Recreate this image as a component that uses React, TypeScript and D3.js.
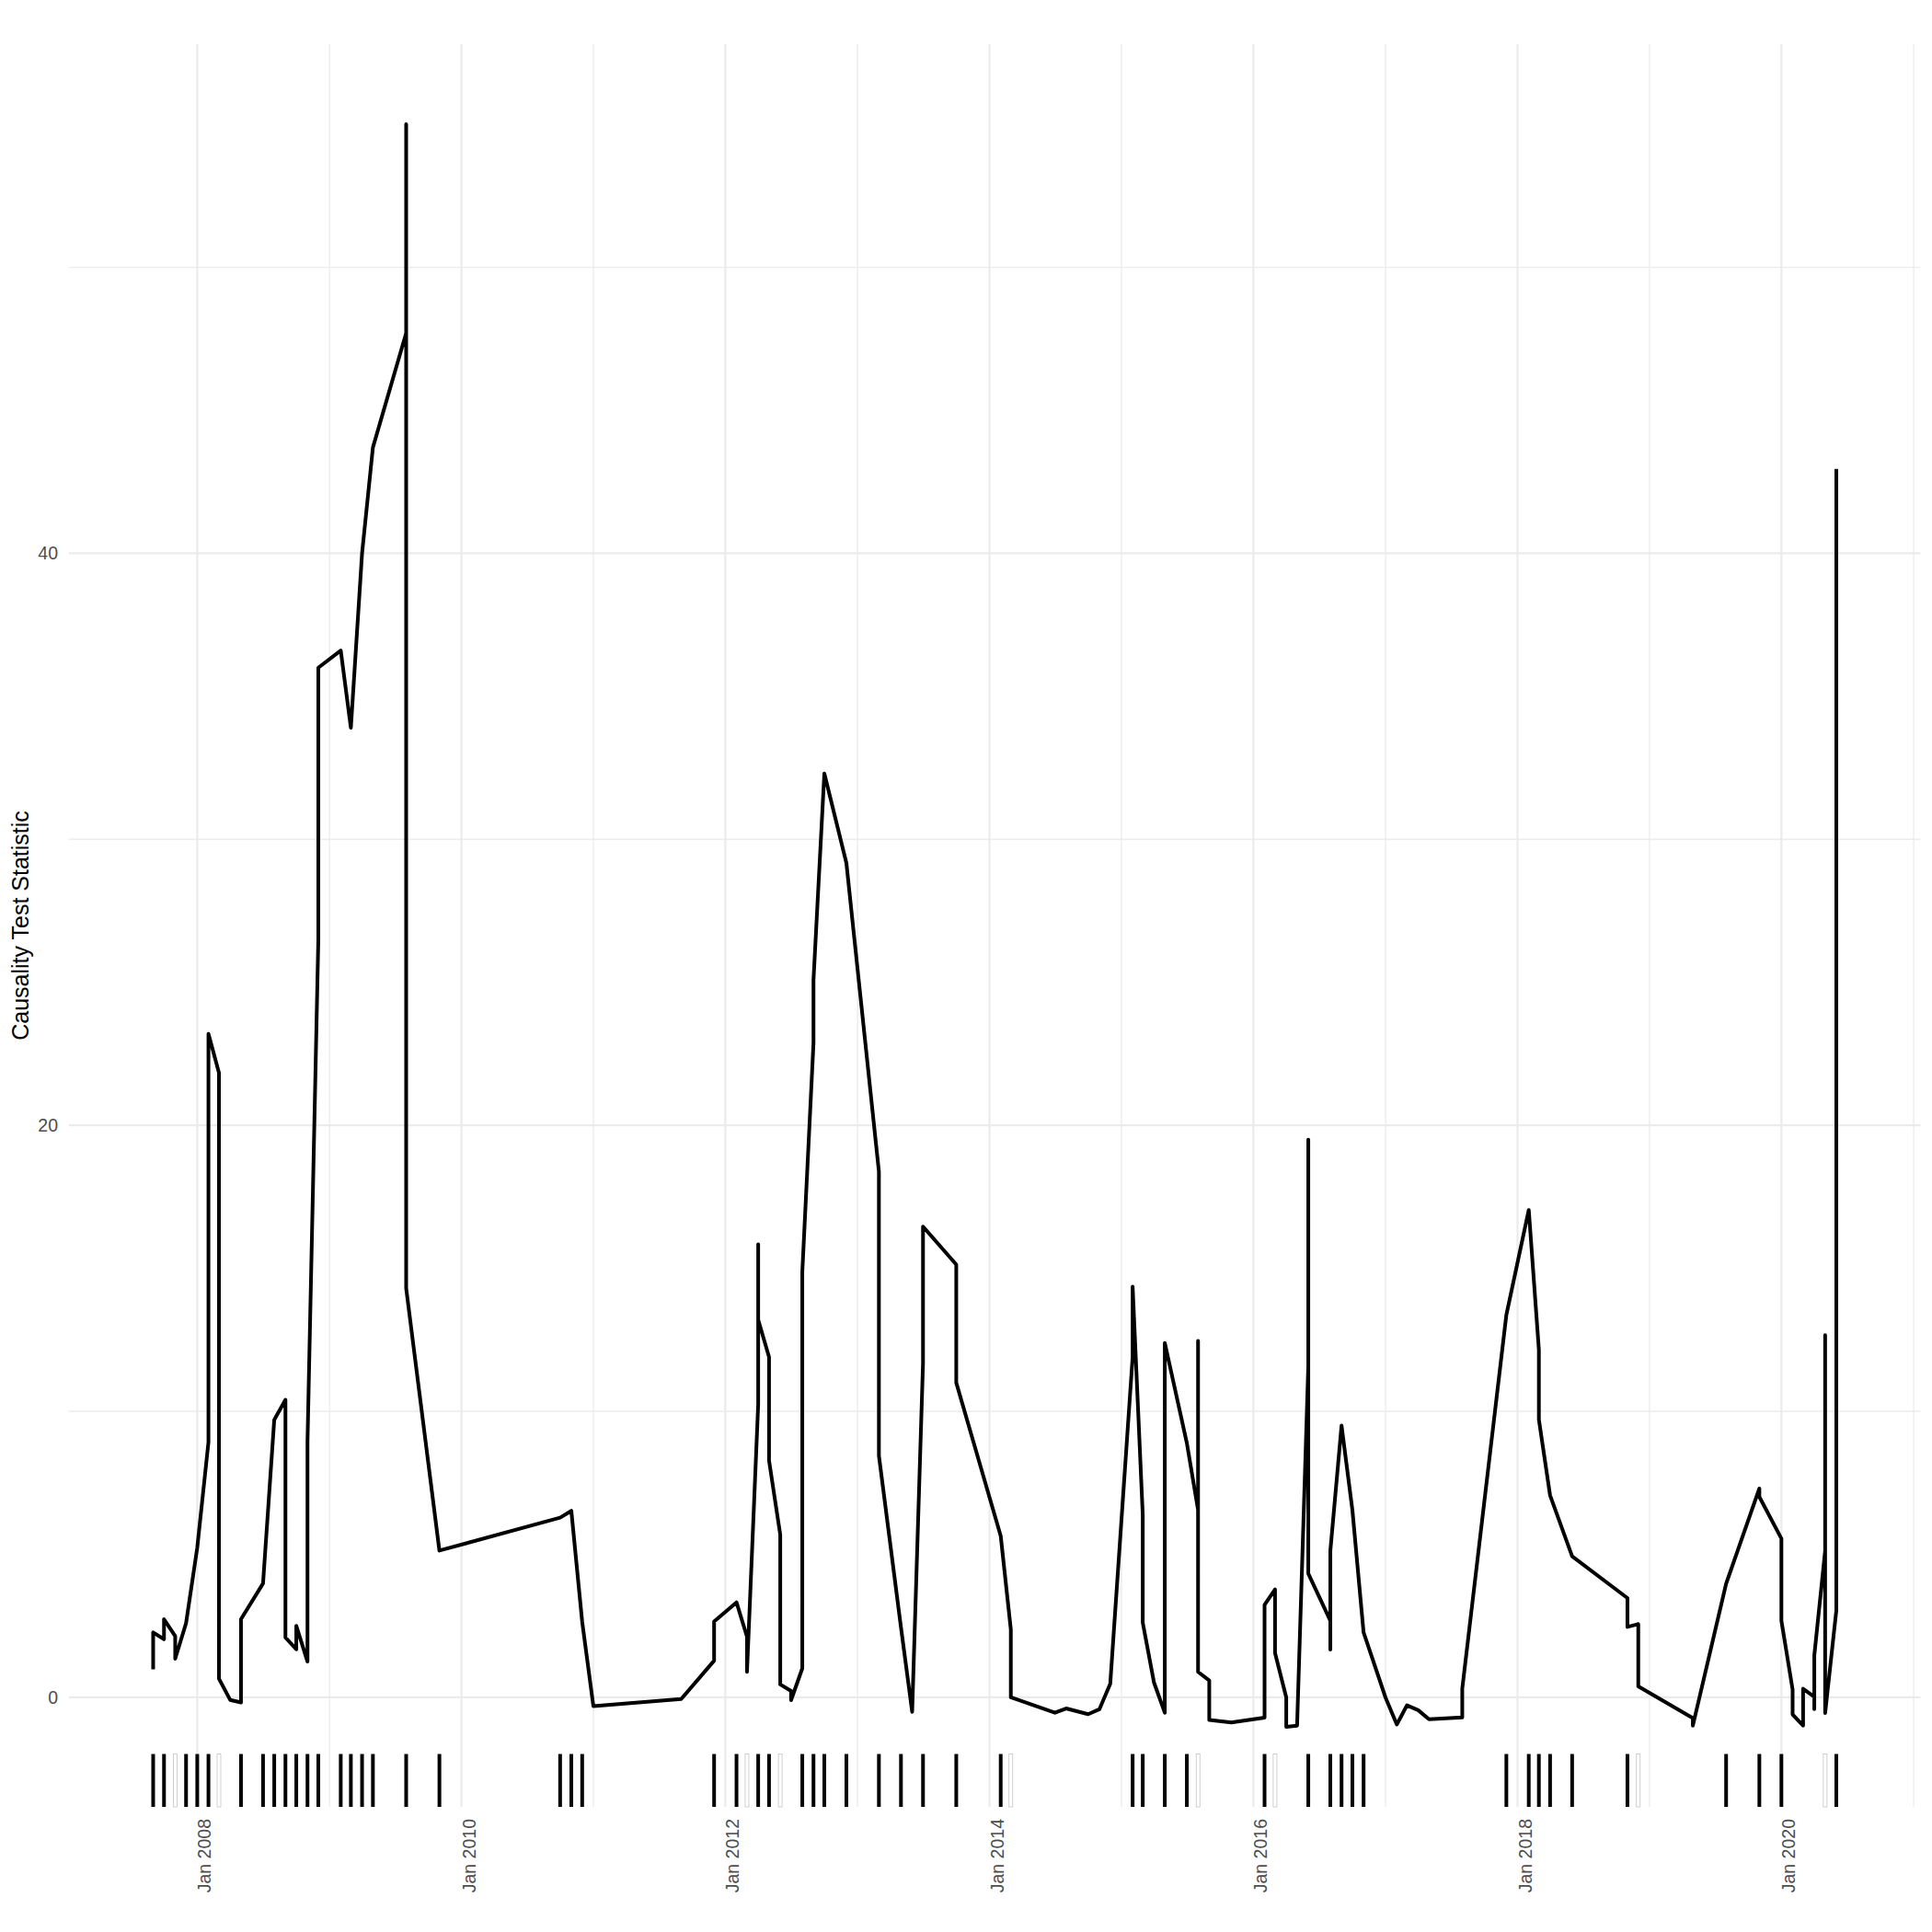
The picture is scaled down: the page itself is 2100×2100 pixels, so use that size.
import React from "react";
import * as d3 from "d3";

// months with observations, and the statistic values recorded in each month (in draw order)
const obsMonths = [
  "2007-09", "2007-10", "2007-11", "2007-12", "2008-01", "2008-02", "2008-03", "2008-04",
  "2008-05", "2008-07", "2008-08", "2008-09", "2008-10", "2008-11", "2008-12", "2009-02",
  "2009-03", "2009-04", "2009-05", "2009-08", "2009-11", "2010-10", "2010-11", "2010-12",
  "2011-01", "2011-09", "2011-12", "2012-02", "2012-03", "2012-04", "2012-05", "2012-06",
  "2012-07", "2012-08", "2012-09", "2012-10", "2012-12", "2013-03", "2013-05", "2013-06",
  "2013-07", "2013-10", "2014-02", "2014-03", "2014-07", "2014-08", "2014-10", "2014-11",
  "2014-12", "2015-02", "2015-03", "2015-04", "2015-05", "2015-07", "2015-08", "2015-09",
  "2015-11", "2016-02", "2016-03", "2016-04", "2016-05", "2016-06", "2016-08", "2016-09",
  "2016-10", "2016-11", "2017-01", "2017-02", "2017-03", "2017-04", "2017-05", "2017-08",
  "2017-12", "2018-02", "2018-03", "2018-04", "2018-06", "2018-11", "2018-12", "2019-05",
  "2019-08", "2019-11", "2020-01", "2020-02", "2020-03", "2020-04", "2020-05", "2020-06",
];

const obsValues = [
  [0.98, 2.27], [2.03, 2.73], [2.14, 1.35], [2.59], [5.23], [8.92, 23.2], [21.84, 0.65], [-0.09],
  [-0.18, 2.73], [3.98], [9.7], [10.4, 2.09], [1.68, 2.5], [1.25, 8.92], [26.5, 36.0], [36.6],
  [33.9], [40.0], [43.7], [47.7, 55.0, 14.3], [5.13], [6.28], [6.52], [2.64],
  [-0.31], [-0.06], [1.28, 2.65], [3.32], [2.12, 0.89], [10.25, 15.84, 13.2], [11.9, 8.28], [5.69, 0.45],
  [0.22, -0.1], [1.01, 14.86], [22.88, 25.08], [32.3], [29.17], [18.38, 8.45], [2.45], [-0.51],
  [11.68, 16.46], [15.13, 11.0], [5.64], [2.37, 0.0], [-0.54], [-0.39], [-0.59], [-0.42],
  [0.47], [11.9, 14.36], [6.38, 2.61], [0.52], [-0.54, 12.39], [8.89], [6.55, 12.46, 0.89], [0.59, -0.79],
  [-0.88], [-0.71, 3.23], [3.77, 1.55], [0.0, -1.03], [-0.99], [11.58, 19.5, 4.33], [2.68, 1.67, 5.12], [9.5],
  [6.55], [2.27], [-0.02], [-0.95], [-0.28], [-0.45], [-0.77], [-0.7, 0.3],
  [13.37], [17.04], [12.15, 9.71], [7.06], [4.93], [3.47, 2.46], [2.56, 0.38], [-0.73, -0.99],
  [3.97], [7.3, 7.01], [5.55, 2.68], [0.27, -0.6], [-0.99, 0.3], [0.02, -0.41, 1.46], [5.12, 12.66, -0.55], [3.04, 42.95],
];

// rug marks along the bottom
const rugDark = [
  "2007-09", "2007-10", "2007-12", "2008-01", "2008-02", "2008-05", "2008-07", "2008-08",
  "2008-09", "2008-10", "2008-11", "2008-12", "2009-02", "2009-03", "2009-04", "2009-05",
  "2009-08", "2009-11", "2010-10", "2010-11", "2010-12", "2011-12", "2012-02", "2012-04",
  "2012-05", "2012-08", "2012-09", "2012-10", "2012-12", "2013-03", "2013-05", "2013-07",
  "2013-10", "2014-02", "2015-02", "2015-03", "2015-05", "2015-07", "2016-02", "2016-06",
  "2016-08", "2016-09", "2016-10", "2016-11", "2017-12", "2018-02", "2018-03", "2018-04",
  "2018-06", "2018-11", "2019-08", "2019-11", "2020-01", "2020-06",
];
const rugLight = [
  "2007-11", "2008-03", "2012-03", "2012-06", "2014-03", "2015-08", "2016-03", "2018-12", "2020-05",
];

const yMajor = [0, 20, 40];
const yMinor = [10, 30, 50];

const W = 2100;
const H = 2100;
const margin = { top: 48, right: 12.5, bottom: 136, left: 75 };

const parseMonth = d3.timeParse("%Y-%m");
const fmt = d3.timeFormat("%b %Y");
const font = "'Liberation Sans', Arial, Helvetica, sans-serif";

export default function App() {
  const points = obsMonths.flatMap((m, i) =>
    obsValues[i].map((v) => ({ date: parseMonth(m) as Date, value: v }))
  );

  const [d0, d1] = d3.extent(points, (d) => d.date) as [Date, Date];
  const span = +d1 - +d0;
  const x = d3
    .scaleTime()
    .domain([new Date(+d0 - span * 0.05), new Date(+d1 + span * 0.05)])
    .range([margin.left, W - margin.right]);

  const [v0, v1] = d3.extent(points, (d) => d.value) as [number, number];
  const vs = v1 - v0;
  const y = d3
    .scaleLinear()
    .domain([v0 - vs * 0.05, v1 + vs * 0.05])
    .range([H - margin.bottom, margin.top]);

  const [xa, xb] = x.domain();
  const xMajor = d3.timeYear.range(xa, xb).filter((d) => d.getFullYear() % 2 === 0);
  const xMinor = d3.timeYear.range(xa, xb).filter((d) => d.getFullYear() % 2 === 1);

  const line = d3
    .line<{ date: Date; value: number }>()
    .x((d) => x(d.date))
    .y((d) => y(d.value));

  const pl = margin.left;
  const pr = W - margin.right;
  const pt = margin.top;
  const pb = H - margin.bottom;
  const rugLen = (pb - pt) * 0.03;
  const grid = "#EBEBEB";

  return (
    <svg
      width={W}
      height={H}
      style={{ position: "absolute", left: 0, top: 0, background: "#fff" }}
      fontFamily={font}
    >
      <rect x={0} y={0} width={W} height={H} fill="#fff" />
      {yMinor.map((v) => (
        <line key={"ym" + v} x1={pl} x2={pr} y1={y(v)} y2={y(v)} stroke={grid} strokeWidth={1.3} />
      ))}
      {xMinor.map((d) => (
        <line key={"xm" + +d} x1={x(d)} x2={x(d)} y1={pt} y2={pb} stroke={grid} strokeWidth={1.3} />
      ))}
      {yMajor.map((v) => (
        <line key={"yM" + v} x1={pl} x2={pr} y1={y(v)} y2={y(v)} stroke={grid} strokeWidth={2.2} />
      ))}
      {xMajor.map((d) => (
        <line key={"xM" + +d} x1={x(d)} x2={x(d)} y1={pt} y2={pb} stroke={grid} strokeWidth={2.2} />
      ))}

      <path d={line(points) || ""} fill="none" stroke="#000" strokeWidth={4} strokeLinejoin="round" />

      {rugDark.map((m) => {
        const px = x(parseMonth(m) as Date);
        return <line key={"r" + m} x1={px} x2={px} y1={pb} y2={pb - rugLen} stroke="#000" strokeWidth={4} />;
      })}
      {rugLight.map((m) => {
        const px = x(parseMonth(m) as Date);
        return (
          <rect key={"w" + m} x={px - 2} y={pb - rugLen} width={4} height={rugLen} fill="#fff" stroke="#c4c4c4" strokeWidth={0.8} />
        );
      })}

      {yMajor.map((v) => (
        <text key={"yt" + v} x={63} y={y(v)} dy="0.35em" textAnchor="end" fontSize={19.5} fill="#4D4D4D">
          {v}
        </text>
      ))}
      {xMajor.map((d) => (
        <text
          key={"xt" + +d}
          transform={`translate(${x(d) + 15},${pb + 13}) rotate(-90)`}
          textAnchor="end"
          fontSize={19.5}
          fill="#4D4D4D"
        >
          {fmt(d)}
        </text>
      ))}

      <text
        transform={`translate(31,${(pt + pb) / 2}) rotate(-90)`}
        textAnchor="middle"
        fontSize={25}
        fill="#000"
      >
        Causality Test Statistic
      </text>
    </svg>
  );
}
